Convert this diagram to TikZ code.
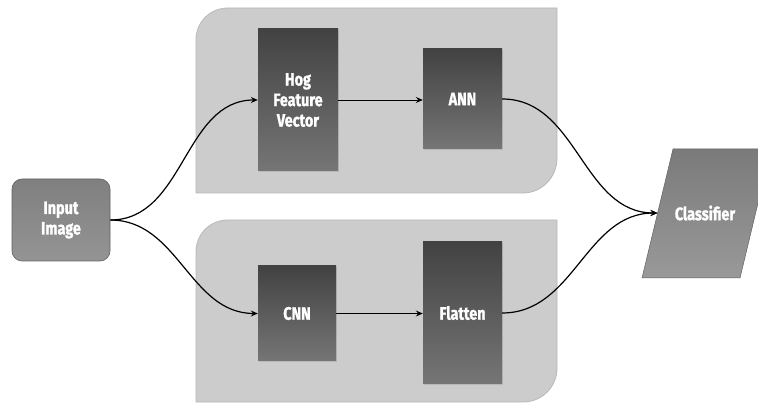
\documentclass[tikz,border=0pt]{standalone}
\usepackage{fontspec}
\setmainfont{Fira Sans}[FakeStretch=0.8, BoldFeatures={FakeBold=1.2}]
\usetikzlibrary{arrows.meta,shadows}

\tikzset{
  panel/.style={draw=black!28, fill=black!20, line width=0.8pt},
  label/.style={text=white, font=\bfseries\fontsize{18}{20.5}\selectfont, align=center},
  layer/.style={label, rectangle, inner sep=0pt, minimum width=80pt,
    top color=black!74, bottom color=black!54,
    drop shadow={opacity=0.25, shadow xshift=1pt, shadow yshift=-1.5pt}},
  terminal/.style={label, rounded corners=10pt, inner sep=0pt, draw=black!62, line width=0.6pt,
    minimum width=98pt, minimum height=82pt, top color=black!50, bottom color=black!42},
  output/.style={draw=black!62, line width=0.5pt, top color=black!52, bottom color=black!40},
  flow/.style={line width=1.2pt, -{Stealth[length=7pt,width=6pt,inset=2.5pt]}},
  link/.style={flow, line width=0.9pt}
}

\begin{document}
\begin{tikzpicture}[x=1pt,y=-1pt]
	\clip (0,0) rectangle (758,403);

	% Panels
	%Top: HOG branch
	\draw[panel] (196,193) -- (196,40) .. controls (196,22) and (210,8) .. (228,8)
		-- (557,8) -- (557,158) .. controls (557,177) and (542,193) .. (523,193) -- cycle;
	%Bottom: CNN branch
	\draw[panel] (196,402) -- (196,252) .. controls (196,234) and (210,220) .. (228,220)
		-- (557,220) -- (557,368) .. controls (557,387) and (542,402) .. (523,402) -- cycle;

	% Nodes
	\node[terminal] (input) at (61,220) {Input\\Image};

	\node[layer, minimum height=142pt] (hog) at (298,100) {Hog\\Feature\\Vector};
	\node[layer, minimum height=100pt, minimum width=79pt] (ann) at (462.5,99) {ANN};

	\node[layer, minimum height=95pt, minimum width=78pt] (cnn) at (297,313.5) {CNN};
	\node[layer, minimum height=142pt, minimum width=79pt] (flatten) at (462.5,313) {Flatten};

	%Classifier (parallelogram, runs off the right edge)
	\shade[output] (642,278) -- (740,278) -- (771,149) -- (673,149) -- cycle;
	\node[label] (classifier) at (705,213) {Classifier};
	\coordinate (clsin) at (657.5,213);

	% Connectors
	\draw[flow] (input.east) to[out=0, in=180] (hog.west);
	\draw[flow] (input.east) to[out=0, in=180] (cnn.west);
	\draw[link] (hog.east) -- (ann.west |- hog.east);
	\draw[link] (cnn.east) -- (flatten.west |- cnn.east);
	\draw[flow] (ann.east) to[out=0, in=180] (clsin);
	\draw[flow] (flatten.east) to[out=0, in=180] (clsin);

\end{tikzpicture}
\end{document}
